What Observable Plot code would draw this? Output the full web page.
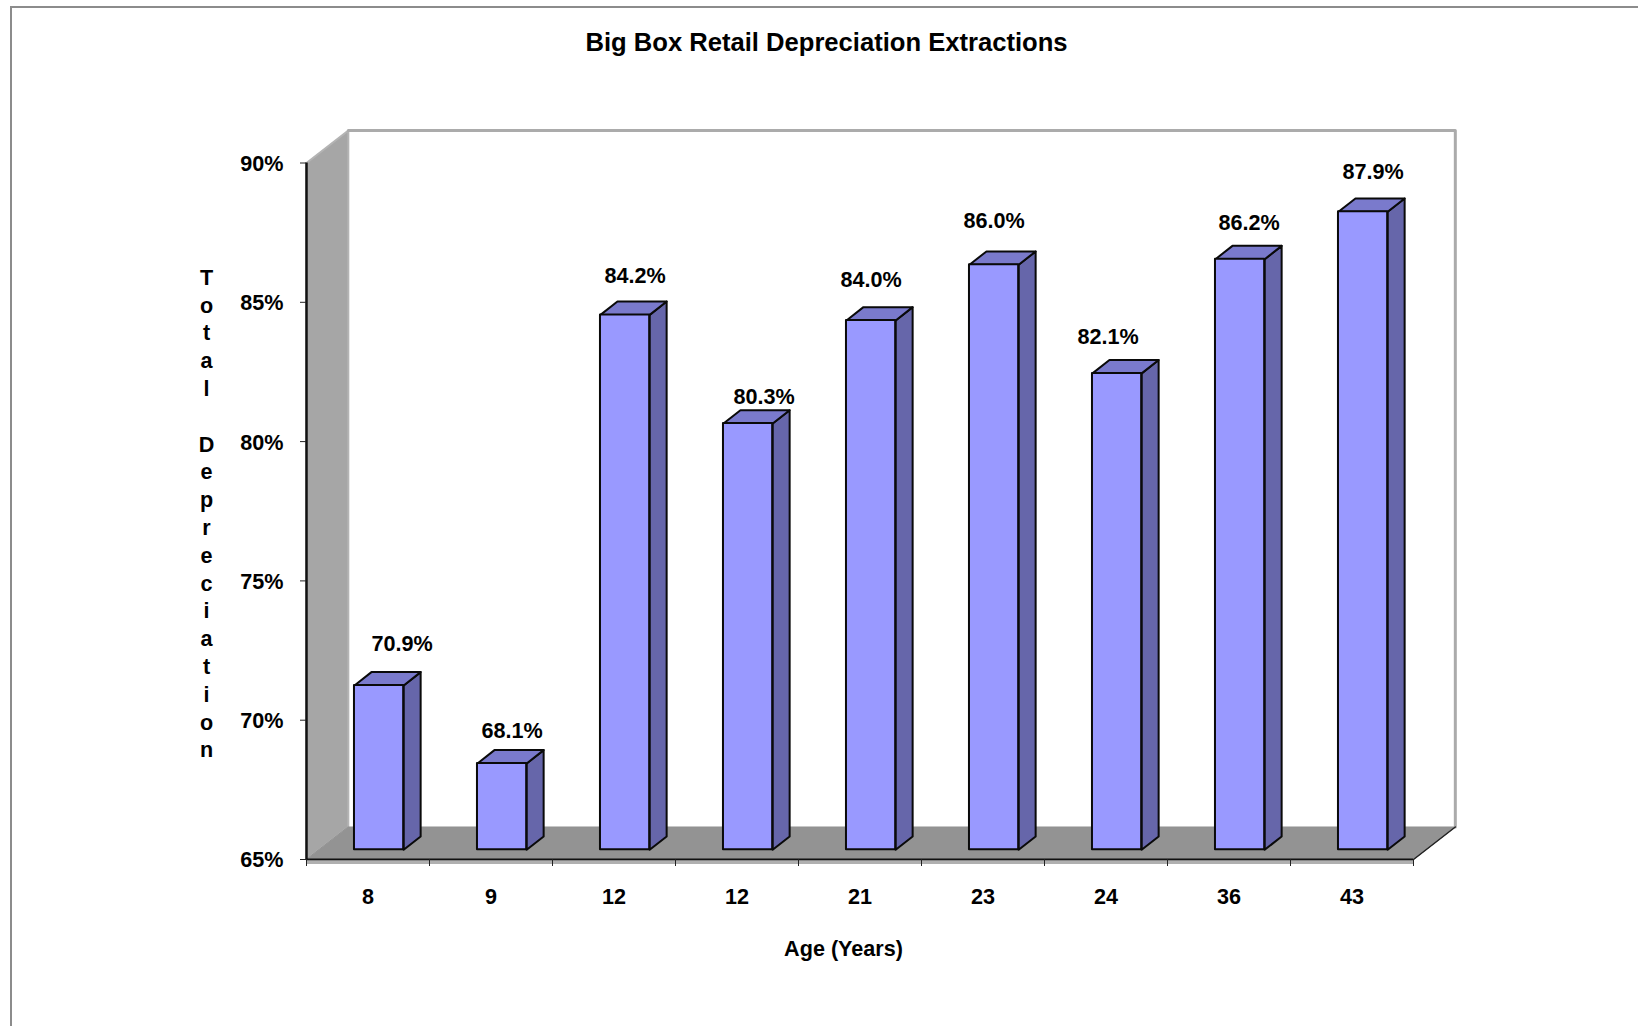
<!DOCTYPE html>
<html>
<head>
<meta charset="utf-8">
<title>Big Box Retail Depreciation Extractions</title>
<script src="https://cdn.jsdelivr.net/npm/d3@7"></script>
<script src="https://cdn.jsdelivr.net/npm/@observablehq/plot@0.6"></script>
<style>
  html, body { margin: 0; padding: 0; background: #fff; overflow: hidden; }
  #page { position: relative; width: 1638px; height: 1026px; font-family: "Liberation Sans", Arial, sans-serif; }
  #page::before { content: ""; position: absolute; left: 10px; top: 6px; right: 0; bottom: 0;
    border-top: 2px solid #8c8c8c; border-left: 2px solid #8c8c8c; pointer-events: none; }
  #chart-title { box-sizing: border-box; height: 84px; line-height: 84px; padding-left: 15px;
    text-align: center; font-size: 25.6px; font-weight: bold; color: #000; }
  svg { display: block; }
</style>
</head>
<body>
<div id="page">
  <div id="chart-title">Big Box Retail Depreciation Extractions</div>
  <div id="chart"></div>
</div>
<script>
// Chart values
const ages = ["8", "9", "12", "12", "21", "23", "24", "36", "43"];
const depreciation = [70.9, 68.1, 84.2, 80.3, 84.0, 86.0, 82.1, 86.2, 87.9];
const percentTicks = [65, 70, 75, 80, 85, 90];

// Hand-placed label nudges, in pixels from the top centre of each column
const labelNudgeX = [23, 10, 10, 16, 0, 0, -9, 9, 10];
const labelNudgeY = [-41, -32, -39, -26, -40, -44, -36, -36, -40];

// Pseudo-3D geometry, in scale units (categories across, percentage points up)
const yMin = 65, yMax = 90;
const wallX = 0.34, wallY = 1.167;    // depth of the chart box
const barX1 = 0.39, barX2 = 0.79;     // column front face within its category
const barDepthX = 0.138, barDepthY = 0.478;
const barLift = -9.7;                 // columns stand part-way back on the floor (px)
const fontSize = 21.6;

const indices = d3.range(ages.length);

const face = (id, points) => points.map(([x, y]) => ({id, x, y}));

const leftWall = face("wall", [[0, yMin], [wallX, yMin + wallY], [wallX, yMax + wallY], [0, yMax]]);
const floor = face("floor", [[0, yMin], [ages.length, yMin], [ages.length + wallX, yMin + wallY], [wallX, yMin + wallY]]);
const backEdge = [[wallX, yMax + wallY], [ages.length + wallX, yMax + wallY], [ages.length + wallX, yMin + wallY]]
  .map(([x, y]) => ({x, y}));

const sideFaces = indices.flatMap(i => face(i, [
  [i + barX2, yMin],
  [i + barX2 + barDepthX, yMin + barDepthY],
  [i + barX2 + barDepthX, depreciation[i] + barDepthY],
  [i + barX2, depreciation[i]]
]));
const topFaces = indices.flatMap(i => face(i, [
  [i + barX1, depreciation[i]],
  [i + barX1 + barDepthX, depreciation[i] + barDepthY],
  [i + barX2 + barDepthX, depreciation[i] + barDepthY],
  [i + barX2, depreciation[i]]
]));

const polygon = (data, fill, extra = {}) => Plot.line(data, {
  x: "x", y: "y", z: "id", fill, curve: "linear-closed", ...extra
});

const columnEdge = {stroke: "#0a0a0a", strokeWidth: 2, strokeLinejoin: "round", dy: barLift};

const chart = Plot.plot({
  width: 1638,
  height: 942,
  marginLeft: 306,
  marginRight: 225,
  marginTop: 78.5,
  marginBottom: 167,
  x: {domain: [0, ages.length]},
  y: {domain: [yMin, yMax]},
  style: {fontFamily: '"Liberation Sans", Arial, sans-serif', fontWeight: "bold", fontSize: `${fontSize}px`, color: "#000", background: "transparent", overflow: "visible"},
  marks: [
    // chart box: side wall, floor and the outline of the white back wall
    polygon(leftWall, "#a6a6a6", {stroke: "#b4b4b4", strokeWidth: 2}),
    polygon(floor, "#939393", {stroke: "#939393", strokeWidth: 1}),
    Plot.line(backEdge, {x: "x", y: "y", stroke: "#ababab", strokeWidth: 3}),
    Plot.line([[ages.length, yMin], [ages.length + wallX, yMin + wallY]], {stroke: "#222", strokeWidth: 1.5}),

    // axes along the front of the box
    Plot.ruleX([0], {y1: yMin, y2: yMax, stroke: "#111", strokeWidth: 2.5}),
    Plot.ruleY([yMin], {x1: 0, x2: ages.length, stroke: "#111", strokeWidth: 2}),
    Plot.ruleY([yMin], {x1: 0, x2: ages.length, stroke: "#b0b0b0", strokeWidth: 3, dy: 3}),
    Plot.axisY(percentTicks, {tickFormat: () => "", tickSize: 6, stroke: "#222", label: null}),
    Plot.axisY(percentTicks, {
      tickFormat: d => `${d}%`, tickSize: 0, tickPadding: 23, dy: 1,
      fontSize, label: null
    }),
    Plot.axisX(d3.range(ages.length + 1), {
      tickFormat: () => "", tickSize: 7, stroke: "#222", label: null
    }),
    Plot.axisX(indices.map(i => i + 0.5), {
      tickFormat: d => ages[d - 0.5], tickSize: 0, tickPadding: 29,
      fontSize, label: null
    }),

    // columns: side and top faces, then the front face
    polygon(sideFaces, "#6666aa", columnEdge),
    polygon(topFaces, "#7a7acc", columnEdge),
    Plot.rect(indices, {
      x1: i => i + barX1, x2: i => i + barX2,
      y1: yMin, y2: i => depreciation[i],
      fill: "#9999ff", ...columnEdge, inset: 0
    }),

    // value labels
    ...indices.map(i => Plot.text([i], {
      x: d => d + (barX1 + barX2) / 2,
      y: d => depreciation[d],
      text: d => `${depreciation[d].toFixed(1)}%`,
      dx: labelNudgeX[i],
      dy: barLift + labelNudgeY[i],
      fontSize
    })),

    // axis titles
    Plot.text(["T\no\nt\na\nl\n\nD\ne\np\nr\ne\nc\ni\na\nt\ni\no\nn"], {
      frameAnchor: "left", dx: -100, dy: 1, textAnchor: "middle",
      lineHeight: 1.287, fontSize
    }),
    Plot.text(["Age (Years)"], {
      x: 4.366, frameAnchor: "bottom", dy: 96, fontSize
    })
  ]
});

document.getElementById("chart").append(chart);
</script>
</body>
</html>
